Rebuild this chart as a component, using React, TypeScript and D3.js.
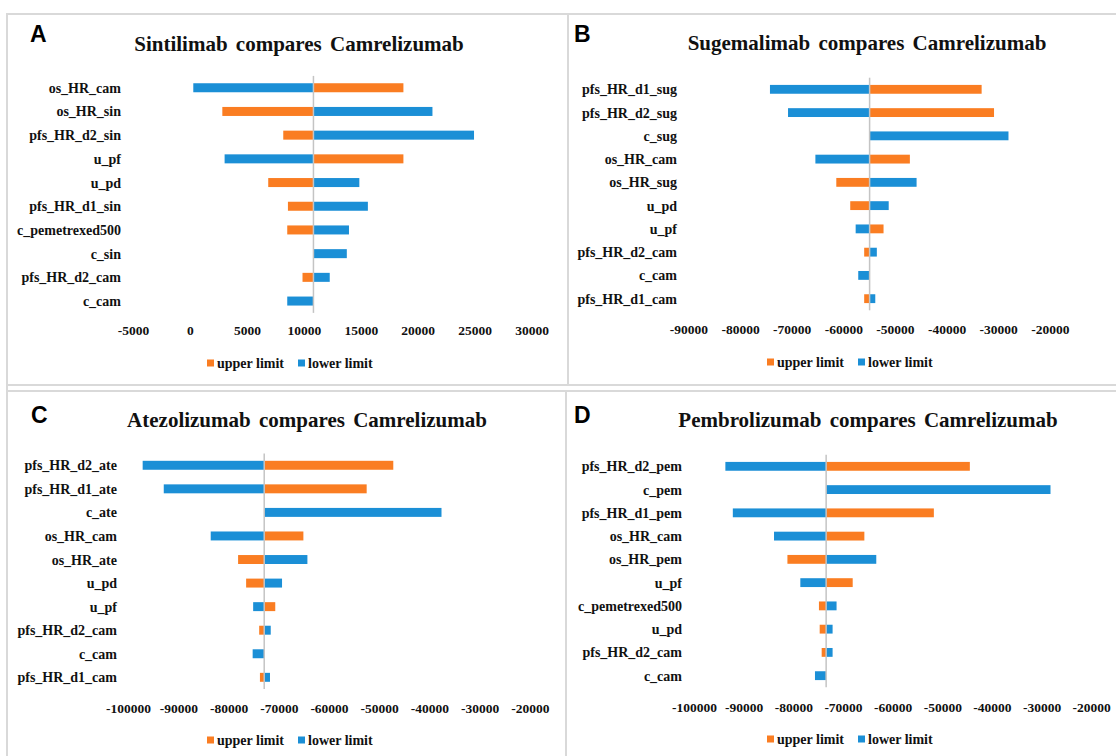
import React from 'react';
import * as d3 from 'd3';

// ---- data ----
const aLabels = ['os_HR_cam', 'os_HR_sin', 'pfs_HR_d2_sin', 'u_pf', 'u_pd', 'pfs_HR_d1_sin', 'c_pemetrexed500', 'c_sin', 'pfs_HR_d2_cam', 'c_cam'];
const aUpper = [18700, 2800, 8150, 18700, 6830, 8560, 8500, 10800, 9840, 10800];
const aLower = [250, 21250, 24900, 3000, 14830, 15580, 13920, 13730, 12230, 8500];
const aBase = 10800;
const aTicks = [-5000, 0, 5000, 10000, 15000, 20000, 25000, 30000];

const bLabels = ['pfs_HR_d1_sug', 'pfs_HR_d2_sug', 'c_sug', 'os_HR_cam', 'os_HR_sug', 'u_pd', 'u_pf', 'pfs_HR_d2_cam', 'c_cam', 'pfs_HR_d1_cam'];
const bUpper = [-33300, -30900, -55000, -47200, -61450, -58750, -52300, -56050, -55000, -56050];
const bLower = [-74300, -70800, -28100, -65500, -45900, -51300, -57700, -53600, -57200, -53900];
const bBase = -55000;
const bTicks = [-90000, -80000, -70000, -60000, -50000, -40000, -30000, -20000];

const cLabels = ['pfs_HR_d2_ate', 'pfs_HR_d1_ate', 'c_ate', 'os_HR_cam', 'os_HR_ate', 'u_pd', 'u_pf', 'pfs_HR_d2_cam', 'c_cam', 'pfs_HR_d1_cam'];
const cUpper = [-47300, -52600, -73000, -65200, -78200, -76600, -70800, -74000, -73000, -73850];
const cLower = [-97200, -93000, -37700, -83650, -64400, -69450, -75200, -71700, -75300, -71850];
const cBase = -73000;
const cTicks = [-100000, -90000, -80000, -70000, -60000, -50000, -40000, -30000, -20000];

const dLabels = ['pfs_HR_d2_pem', 'c_pem', 'pfs_HR_d1_pem', 'os_HR_cam', 'os_HR_pem', 'u_pf', 'c_pemetrexed500', 'u_pd', 'pfs_HR_d2_cam', 'c_cam'];
const dUpper = [-44550, -73500, -51800, -65800, -81300, -68150, -74950, -74800, -74400, -73500];
const dLower = [-93800, -28300, -92300, -84000, -63400, -78700, -71400, -72200, -72200, -75750];
const dBase = -73500;
const dTicks = [-100000, -90000, -80000, -70000, -60000, -50000, -40000, -30000, -20000];

const seriesNames = ['upper limit', 'lower limit'];

const ORANGE = '#FA7D22';
const BLUE = '#1B8FD6';
const TEXT = '#111';
const serif = { fontFamily: "'Liberation Serif', 'Times New Roman', 'DejaVu Serif', serif", fontWeight: 700 };
const sans = { fontFamily: "'Liberation Sans', Arial, sans-serif", fontWeight: 700 };

const panels = [
  { letter: 'A', title: 'Sintilimab compares Camrelizumab', labels: aLabels, upper: aUpper, lower: aLower, base: aBase, ticks: aTicks,
    xr: [133.5, 532.1], yr: [75.9, 312.9], labelX: 121, titleX: 299, titleY: 51, letterX: 30, letterY: 42, tickY: 335, legendX: 207, legendY: 363 },
  { letter: 'B', title: 'Sugemalimab compares Camrelizumab', labels: bLabels, upper: bUpper, lower: bLower, base: bBase, ticks: bTicks,
    xr: [688.9, 1050.3], yr: [77.7, 310.3], labelX: 677, titleX: 867, titleY: 50, letterX: 574, letterY: 42, tickY: 334, legendX: 767, legendY: 362 },
  { letter: 'C', title: 'Atezolizumab compares Camrelizumab', labels: cLabels, upper: cUpper, lower: cLower, base: cBase, ticks: cTicks,
    xr: [128.6, 530.4], yr: [453.5, 689.1], labelX: 117, titleX: 307, titleY: 427, letterX: 31, letterY: 423, tickY: 713, legendX: 207, legendY: 740 },
  { letter: 'D', title: 'Pembrolizumab compares Camrelizumab', labels: dLabels, upper: dUpper, lower: dLower, base: dBase, ticks: dTicks,
    xr: [694.6, 1091.7], yr: [454.7, 687.3], labelX: 682, titleX: 868, titleY: 427, letterX: 574, letterY: 423, tickY: 712, legendX: 767, legendY: 739 },
];

function Panel({ p }) {
  const x = d3.scaleLinear().domain([p.ticks[0], p.ticks[p.ticks.length - 1]]).range(p.xr);
  const y = d3.scaleBand().domain(p.labels).range(p.yr).paddingInner(0.62).paddingOuter(0.31);
  const bh = y.bandwidth();
  const bar = (v, color, key) => {
    const x0 = Math.min(x(p.base), x(v));
    const w = Math.abs(x(v) - x(p.base));
    if (w < 0.5) return null;
    return <rect key={key} x={x0} y={0} width={w} height={bh} fill={color} />;
  };
  return (
    <g>
      <text x={p.letterX} y={p.letterY} style={{ ...sans, fontSize: 23 }} fill="#000">{p.letter}</text>
      <text x={p.titleX} y={p.titleY} textAnchor="middle" style={{ ...serif, fontSize: 21, wordSpacing: 3 }} fill={TEXT}>{p.title}</text>
      {p.labels.map((l, i) => (
        <g key={l} transform={`translate(0,${y(l)})`}>
          {bar(p.upper[i], ORANGE, 'u')}
          {bar(p.lower[i], BLUE, 'l')}
          <text x={p.labelX} y={bh / 2 + 5} textAnchor="end" style={{ ...serif, fontSize: 14 }} fill={TEXT}>{l}</text>
        </g>
      ))}
      <line x1={x(p.base)} x2={x(p.base)} y1={p.yr[0]} y2={p.yr[1]} stroke="#c4c4c4" strokeWidth={1.5} />
      {p.ticks.map(t => (
        <text key={t} x={x(t)} y={p.tickY} textAnchor="middle" style={{ ...serif, fontSize: 13.5 }} fill={TEXT}>{t}</text>
      ))}
      <g transform={`translate(${p.legendX},${p.legendY})`}>
        <rect x={0} y={-3.5} width={7} height={7} fill={ORANGE} />
        <text x={10} y={5} style={{ ...serif, fontSize: 14 }} fill={TEXT}>{seriesNames[0]}</text>
        <rect x={91} y={-3.5} width={7} height={7} fill={BLUE} />
        <text x={101} y={5} style={{ ...serif, fontSize: 14 }} fill={TEXT}>{seriesNames[1]}</text>
      </g>
    </g>
  );
}

export default function App() {
  return (
    <svg width={1116} height={756} style={{ position: 'absolute', left: 0, top: 0, background: '#fff' }}>
      {/* panel frames */}
      <g stroke="#d9d9d9" strokeWidth={2} fill="none">
        <path d="M7,756 V14 H1116" />
        <path d="M7,385 H1116" />
        <path d="M568,14 V385" />
        <path d="M7,391 H1116" />
        <path d="M566,391 V756" />
      </g>
      {panels.map(p => <Panel key={p.letter} p={p} />)}
    </svg>
  );
}
